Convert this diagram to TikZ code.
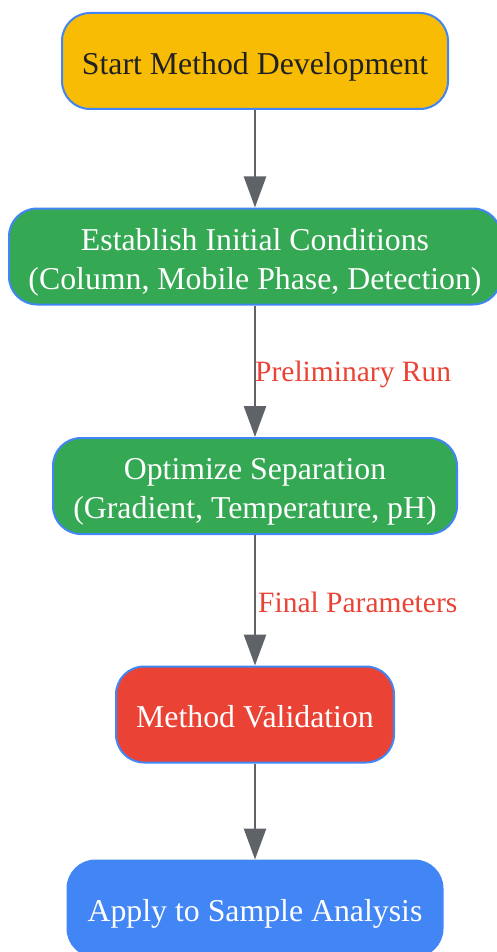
\documentclass[tikz,border=0pt]{standalone}
\usepackage{fontspec}
\setmainfont{Liberation Serif}
\usetikzlibrary{arrows.meta}
\definecolor{gyellow}{HTML}{F9BC05}
\definecolor{ggreen}{HTML}{34A853}
\definecolor{gred}{HTML}{EA4335}
\definecolor{gblue}{HTML}{4285F4}
\definecolor{ggrey}{HTML}{5F6368}
\definecolor{gtext}{HTML}{202124}
\newcommand{\boxtext}[1]{\raisebox{-11.5pt}[0pt][0pt]{\begin{tabular}[c]{@{}c@{}}#1\end{tabular}}}
\tikzset{
  stepbox/.style={draw=gblue, line width=2pt, rounded corners=28pt, inner sep=0pt,
    minimum height=96pt,
    font=\fontsize{31.8}{39}\selectfont},
  flow/.style={draw=ggrey, line width=2.6pt, -{Triangle[length=31pt,width=22pt]}},
  elabel/.style={text=gred, font=\fontsize{29.5}{35}\selectfont, anchor=west, inner sep=0pt}
}
\begin{document}
\begin{tikzpicture}[x=1pt,y=-1pt]
\useasboundingbox (0,0) rectangle (497,952);
\node[stepbox, fill=gyellow, text=gtext, minimum width=386pt] (start) at (255,61) {\boxtext{Start Method Development}};
\node[stepbox, fill=ggreen, text=white, minimum width=492pt] (init) at (255,256.5) {\boxtext{Establish Initial Conditions\\(Column, Mobile Phase, Detection)}};
\node[stepbox, fill=ggreen, text=white, minimum width=404pt] (opt) at (255,486) {\boxtext{Optimize Separation\\(Gradient, Temperature, pH)}};
\node[stepbox, fill=gred, text=white, minimum width=278pt] (val) at (255,714.5) {\boxtext{Method Validation}};
\node[stepbox, draw=gblue, fill=gblue, text=white, minimum width=375pt] (app) at (255,908.5) {\boxtext{Apply to Sample Analysis}};
\draw[flow] (start) -- (init);
\draw[flow] (init) -- (opt);
\draw[flow] (opt) -- (val);
\draw[flow] (val) -- (app);
\node[elabel] (l1) at (255,374) {Preliminary Run};
\node[elabel] (l2) at (258,602) {Final Parameters};
\end{tikzpicture}
\end{document}
